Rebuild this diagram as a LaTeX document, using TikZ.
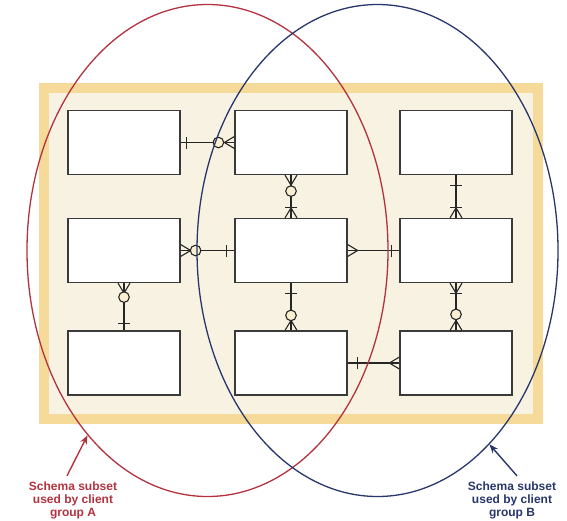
\documentclass[tikz,border=0pt]{standalone}
\usepackage{fontspec}
\setmainfont{Liberation Sans}
\usetikzlibrary{shapes.geometric,decorations.markings,arrows.meta}
\definecolor{bandc}{HTML}{F6DA9A}
\definecolor{paper}{HTML}{F8F2E2}
\definecolor{boxline}{HTML}{3A3A3A}
\definecolor{linec}{HTML}{262626}
\definecolor{ringc}{HTML}{FBEFD2}
\definecolor{groupA}{HTML}{B3323F}
\definecolor{groupB}{HTML}{27376B}

\begin{document}
\begin{tikzpicture}[x=1pt,y=-1pt,
  frame/.style={draw=bandc, line width=10pt, fill=paper, minimum width=494pt, minimum height=331pt, inner sep=0pt},
  entity/.style={draw=boxline, line width=1.2pt, fill=white, minimum width=112pt, minimum height=64pt, inner sep=0pt},
  link/.style={draw=linec, line width=1.1pt},
  crowS/.style={postaction={decorate, decoration={markings,
      mark=at position 0.01pt with {\draw[link] (10pt,0pt) -- (0pt,6pt) (10pt,0pt) -- (0pt,-6pt);}}}},
  crowE/.style={postaction={decorate, decoration={markings,
      mark=at position -0.01pt with {\draw[link] (-10pt,0pt) -- (0pt,6pt) (-10pt,0pt) -- (0pt,-6pt);}}}},
  tickat/.style={postaction={decorate, decoration={markings,
      mark=at position #1 with {\draw[link] (0pt,-6pt) -- (0pt,6pt);}}}},
  ringat/.style={postaction={decorate, decoration={markings,
      mark=at position #1 with {\draw[link, fill=ringc] (0pt,0pt) circle (5.3pt);}}}},
  group/.style={ellipse, draw, line width=1.3pt, minimum width=361pt, minimum height=492pt, inner sep=0pt},
  note/.style={font=\fontsize{12}{13}\selectfont\bfseries, align=center},
  pointer/.style={line width=1.4pt, -{Stealth[length=9pt,width=7pt]}},
]
\useasboundingbox (0,0) rectangle (567,520);

% schema area
\node[frame] (area) at (291,253.5) {};

% entities
\node[entity] (b11) at (124,142.5) {};
\node[entity] (b12) at (291,142.5) {};
\node[entity] (b13) at (456,142.5) {};
\node[entity] (b21) at (124,250.5) {};
\node[entity] (b22) at (291,250.5) {};
\node[entity] (b23) at (456,250.5) {};
\node[entity] (b31) at (124,363) {};
\node[entity] (b32) at (291,363) {};
\node[entity] (b33) at (456,363) {};

% relationships
\draw[link, tickat=6pt, ringat=-16pt, crowE] (b11) -- (b12);
\draw[link, crowS, ringat=15pt, tickat=-8pt] (b21) -- (b22);
\draw[link, crowS, ringat=16pt, tickat=-10pt, crowE] (b12) -- (b22);
\draw[link, crowS, tickat=-8pt] (b22) -- (b23);
\draw[link, tickat=10pt, tickat=-10pt, crowE] (b13) -- (b23);
\draw[link, crowS, ringat=14pt, tickat=-7pt] (b21) -- (b31);
\draw[link, tickat=10pt, ringat=-15pt, crowE] (b22) -- (b32);
\draw[link, tickat=10pt, crowE] (b32) -- (b33);
\draw[link, crowS, tickat=10pt, ringat=-16pt, crowE] (b23) -- (b33);

% client group subsets
\node[group, draw=groupA] (ellA) at (207.5,250.5) {};
\node[group, draw=groupB] (ellB) at (377.5,250.5) {};

% labels
\node[note, text=groupA] (noteA) at (73,500) {Schema subset\\used by client\\group A};
\node[note, text=groupB] (noteB) at (512,500) {Schema subset\\used by client\\group B};
\draw[pointer, groupA] ([xshift=-6pt,yshift=2pt]noteA.north) -- (ellA.237.6);
\draw[pointer, groupB] ([xshift=5pt,yshift=2pt]noteB.north) -- (ellB.300.8);
\end{tikzpicture}
\end{document}
